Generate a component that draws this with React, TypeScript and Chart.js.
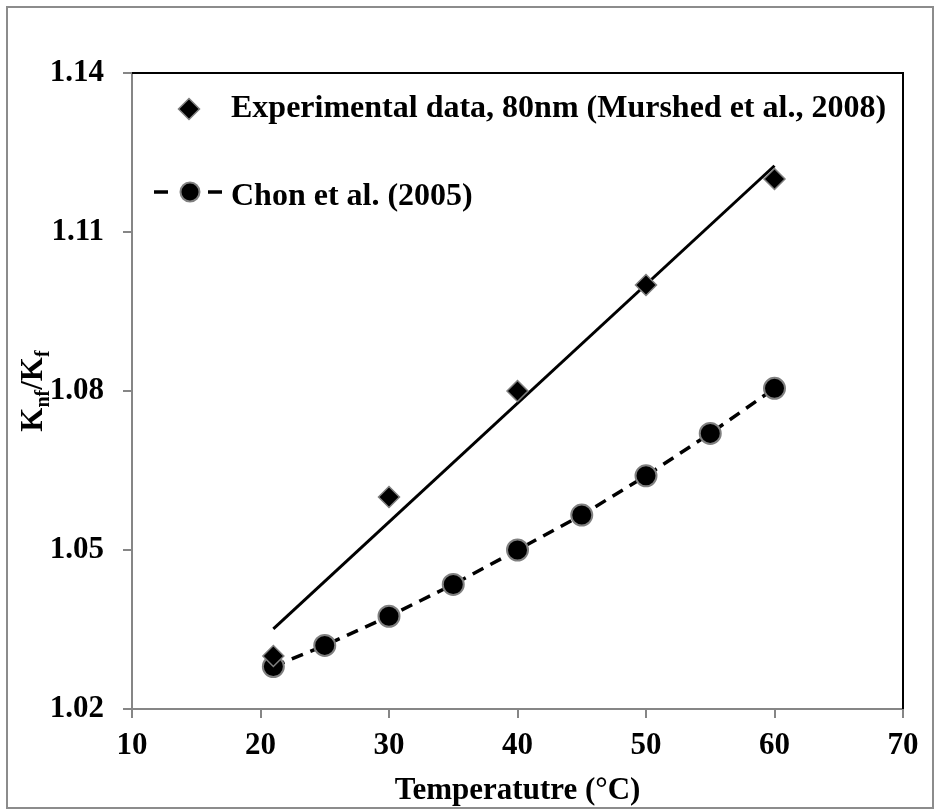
import React, { useEffect, useRef } from "react";
import { Chart, registerables } from "chart.js";

Chart.register(...registerables);

const expTemps = [21, 30, 40, 50, 60];
const expValues = [1.03, 1.06, 1.08, 1.1, 1.12];
const trendTemps = [21, 60];
const trendValues = [1.0351, 1.1225];
const chonTemps = [21, 25, 30, 35, 40, 45, 50, 55, 60];
const chonValues = [1.028, 1.032, 1.0375, 1.0435, 1.05, 1.0566, 1.064, 1.072, 1.0805];
const xTicks = [10, 20, 30, 40, 50, 60, 70];
const yTicks = [1.02, 1.05, 1.08, 1.11, 1.14];
const legendLabels = ["Experimental data, 80nm (Murshed et al., 2008)", "Chon et al. (2005)"];
const xTitle = "Temperatutre (°C)";

const SERIF = "'Liberation Serif', 'Times New Roman', serif";

const decorPlugin = {
  id: "decor",
  beforeDraw(chart: any) {
    const ctx = chart.ctx;
    ctx.save();
    ctx.fillStyle = "#ffffff";
    ctx.fillRect(0, 0, chart.width, chart.height);
    ctx.strokeStyle = "#8c8c8c";
    ctx.lineWidth = 2;
    ctx.strokeRect(7, 7, 926, 801);
    ctx.restore();
  },
  afterDraw(chart: any) {
    const ctx = chart.ctx;
    const a = chart.chartArea;
    ctx.save();
    // top/right frame
    ctx.strokeStyle = "#000";
    ctx.lineWidth = 2;
    ctx.beginPath();
    ctx.moveTo(a.left, a.top);
    ctx.lineTo(a.right, a.top);
    ctx.lineTo(a.right, a.bottom);
    ctx.stroke();

    // legend
    ctx.fillStyle = "#000";
    ctx.font = `bold 32px ${SERIF}`;
    ctx.textBaseline = "alphabetic";
    ctx.textAlign = "left";
    // diamond
    const dx = 189, dy = 109, dr = 10.5;
    ctx.beginPath();
    ctx.moveTo(dx, dy - dr);
    ctx.lineTo(dx + dr, dy);
    ctx.lineTo(dx, dy + dr);
    ctx.lineTo(dx - dr, dy);
    ctx.closePath();
    ctx.fillStyle = "#000";
    ctx.fill();
    ctx.strokeStyle = "#808080";
    ctx.lineWidth = 1.5;
    ctx.stroke();
    ctx.fillStyle = "#000";
    ctx.fillText(legendLabels[0], 231, 117);
    // dashed line + circle
    ctx.strokeStyle = "#000";
    ctx.lineWidth = 3.5;
    ctx.setLineDash([14, 40]);
    ctx.beginPath();
    ctx.moveTo(154, 192);
    ctx.lineTo(223, 192);
    ctx.stroke();
    ctx.setLineDash([]);
    ctx.beginPath();
    ctx.arc(190, 192, 9.5, 0, Math.PI * 2);
    ctx.fillStyle = "#000";
    ctx.fill();
    ctx.strokeStyle = "#808080";
    ctx.lineWidth = 2;
    ctx.stroke();
    ctx.fillStyle = "#000";
    ctx.fillText(legendLabels[1], 231, 205);

    // x title
    ctx.font = `bold 31px ${SERIF}`;
    ctx.textAlign = "center";
    ctx.fillText(xTitle, (a.left + a.right) / 2, 799);

    // y title with subscripts
    const main = `bold 31px ${SERIF}`;
    const sub = `bold 20px ${SERIF}`;
    const parts = [
      { t: "K", f: main, o: 0 },
      { t: "nf", f: sub, o: 7 },
      { t: "/K", f: main, o: 0 },
      { t: "f", f: sub, o: 7 },
    ];
    let total = 0;
    for (const p of parts) {
      ctx.font = p.f;
      total += ctx.measureText(p.t).width;
    }
    ctx.translate(42, 391);
    ctx.rotate(-Math.PI / 2);
    ctx.textAlign = "left";
    let x = -total / 2;
    for (const p of parts) {
      ctx.font = p.f;
      ctx.fillText(p.t, x, p.o);
      x += ctx.measureText(p.t).width;
    }
    ctx.restore();
  },
};

export default function App() {
  const ref = useRef<HTMLCanvasElement>(null);
  useEffect(() => {
    if (!ref.current) return;
    const tickFont = { family: SERIF, size: 31, weight: "bold" as const };
    const chart = new Chart(ref.current, {
      type: "scatter",
      data: {
        datasets: [
          {
            label: legendLabels[0],
            data: expTemps.map((t, i) => ({ x: t, y: expValues[i] })),
            showLine: false,
            pointStyle: "rectRot",
            pointRadius: 10.5,
            backgroundColor: "#000",
            borderColor: "#808080",
            borderWidth: 1.5,
            order: 0,
          },
          {
            label: "trend",
            data: trendTemps.map((t, i) => ({ x: t, y: trendValues[i] })),
            showLine: true,
            borderColor: "#000",
            borderWidth: 3,
            pointRadius: 0,
            order: 1,
          },
          {
            label: legendLabels[1],
            data: chonTemps.map((t, i) => ({ x: t, y: chonValues[i] })),
            showLine: true,
            borderColor: "#000",
            borderWidth: 3.5,
            borderDash: [12, 8],
            pointStyle: "circle",
            pointRadius: 10.5,
            pointBackgroundColor: "#000",
            pointBorderColor: "#808080",
            pointBorderWidth: 2,
            order: 2,
          },
        ],
      },
      options: {
        responsive: false,
        animation: false,
        devicePixelRatio: 1,
        layout: { padding: { left: 0, top: 73, right: 35, bottom: 0 } },
        plugins: { legend: { display: false }, tooltip: { enabled: false } },
        scales: {
          x: {
            type: "linear",
            min: 10,
            max: 70,
            afterFit: (s: any) => { s.height = 101; },
            afterBuildTicks: (s: any) => { s.ticks = xTicks.map((v) => ({ value: v })); },
            ticks: { font: tickFont, color: "#000", padding: 9, callback: (v: any) => String(v) },
            grid: { drawOnChartArea: false, drawTicks: true, tickLength: 9, color: "#868686", lineWidth: 2 },
            border: { display: true, color: "#868686", width: 2 },
          },
          y: {
            type: "linear",
            min: 1.02,
            max: 1.14,
            afterFit: (s: any) => { s.width = 132; },
            afterBuildTicks: (s: any) => { s.ticks = yTicks.map((v) => ({ value: v })); },
            ticks: { font: tickFont, color: "#000", padding: 19, callback: (v: any) => Number(v).toFixed(2) },
            grid: { drawOnChartArea: false, drawTicks: true, tickLength: 9, color: "#868686", lineWidth: 2 },
            border: { display: true, color: "#868686", width: 2 },
          },
        },
      },
      plugins: [decorPlugin],
    });
    return () => chart.destroy();
  }, []);
  return (
    <div style={{ position: "absolute", left: 0, top: 0, width: 938, height: 810 }}>
      <canvas ref={ref} width={938} height={810} style={{ width: 938, height: 810, display: "block" }} />
    </div>
  );
}
